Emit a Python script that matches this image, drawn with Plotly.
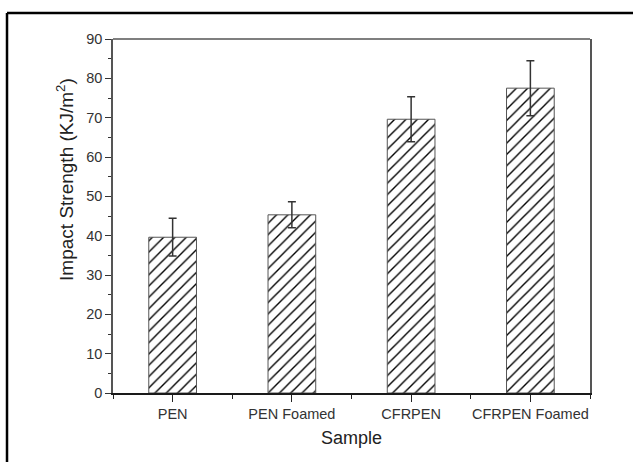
import plotly.graph_objects as go

categories = ["PEN", "PEN Foamed", "CFRPEN", "CFRPEN Foamed"]
impact_strength = [39.6, 45.3, 69.6, 77.5]
error_values = [4.8, 3.3, 5.7, 7.0]
y_ticks = [0, 10, 20, 30, 40, 50, 60, 70, 80, 90]

FONT = "Liberation Sans, Arial, sans-serif"
x_pos = list(range(len(categories)))

fig = go.Figure()
fig.add_trace(go.Bar(
    x=x_pos,
    y=impact_strength,
    width=0.4,
    marker=dict(
        color="white",
        line=dict(color="#555555", width=1),
        pattern=dict(shape="/", fgcolor="#000000", bgcolor="white", size=8,
                     solidity=0.17, fgopacity=1),
    ),
    error_y=dict(type="data", array=error_values, visible=True,
                 color="#333333", thickness=1.5, width=4),
    showlegend=False,
))

fig.update_layout(
    width=633, height=462,
    margin=dict(l=113, r=43, t=39, b=69),
    paper_bgcolor="white", plot_bgcolor="white",
    font=dict(family=FONT, color="#333333", size=14),
    xaxis=dict(
        range=[-0.5, 3.5],
        tickvals=x_pos, ticktext=categories,
        ticks="outside", ticklen=7, tickwidth=1.2, tickcolor="#222222",
        minor=dict(tickvals=[-0.5, 0.5, 1.5, 2.5, 3.5], ticks="outside", ticklen=4,
                   tickwidth=1.2, tickcolor="#222222"),
        showline=True, linecolor="#1a1a1a", linewidth=2, mirror=False,
        showgrid=False, zeroline=False,
        tickfont=dict(size=14.5, color="#333333"),
        title=dict(text="Sample", font=dict(size=18, color="#222222"), standoff=10),
    ),
    yaxis=dict(
        range=[0, 90],
        tickvals=y_ticks,
        ticks="outside", ticklen=6, tickwidth=1.2, tickcolor="#333333",
        minor=dict(dtick=5, tick0=0, ticks="outside", ticklen=3, tickwidth=1.2, tickcolor="#333333"),
        showline=True, linecolor="#555555", linewidth=1.5, mirror=True,
        showgrid=False, zeroline=False,
        tickfont=dict(size=14.5, color="#333333"),
    ),
    annotations=[
        dict(text="Impact Strength (KJ/m<sup>2</sup>)", textangle=-90,
             xref="paper", yref="paper", x=-0.1006, y=0.602,
             xanchor="center", yanchor="middle", showarrow=False,
             font=dict(size=19, color="#222222", family=FONT)),
    ],
    shapes=[
        dict(type="line", xref="paper", yref="paper", x0=0, x1=1, y0=1, y1=1,
             line=dict(color="#555555", width=1.5)),
        dict(type="line", xref="paper", yref="paper", x0=-0.2222, x1=1.2, y0=1.0734, y1=1.0734,
             line=dict(color="black", width=2.5)),
        dict(type="line", xref="paper", yref="paper", x0=-0.2222, x1=-0.2222, y0=1.0734, y1=-0.25,
             line=dict(color="black", width=2.5)),
    ],
)

fig.write_html("out.html", config={"displayModeBar": False},
               post_script="document.body.style.margin='0';")
